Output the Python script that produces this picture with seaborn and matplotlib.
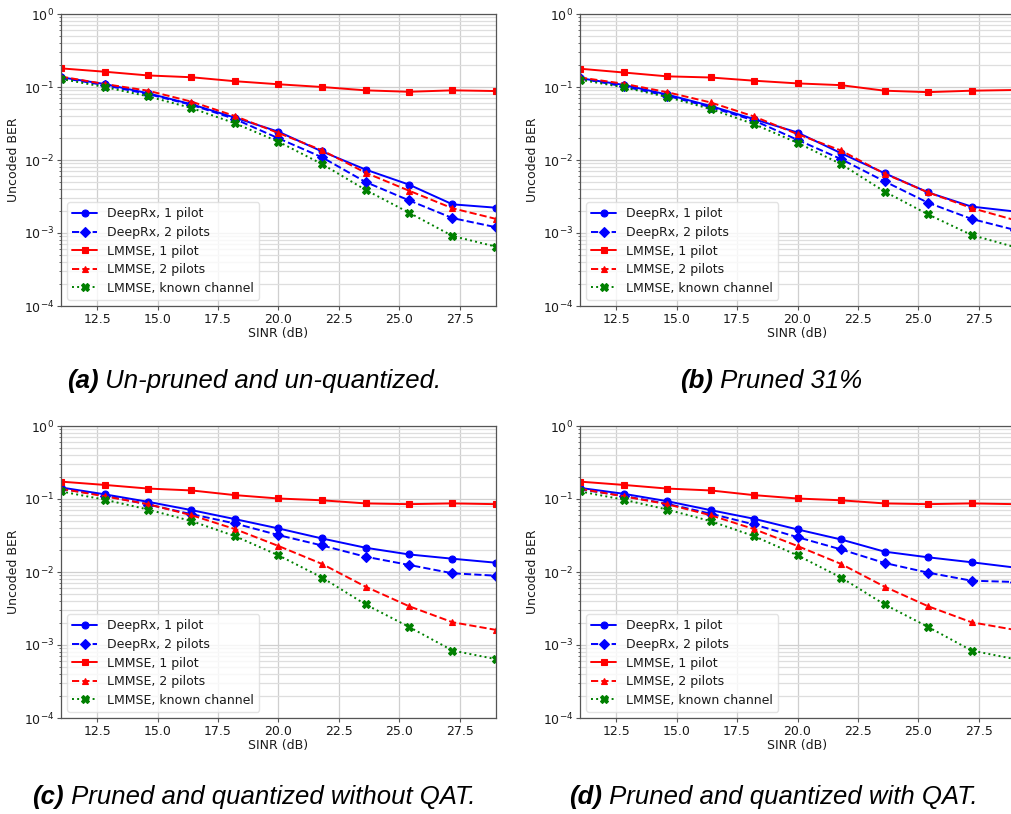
import numpy as np
import pandas as pd
import matplotlib
matplotlib.use("Agg")
import matplotlib.pyplot as plt
import seaborn as sns

sinr = [11.0, 12.8, 14.6, 16.4, 18.2, 20.0, 21.8, 23.6, 25.4, 27.2, 29.0]

series_labels = ["DeepRx, 1 pilot", "DeepRx, 2 pilots", "LMMSE, 1 pilot",
                 "LMMSE, 2 pilots", "LMMSE, known channel"]

# panel (a)
a_deeprx1 = [0.136, 0.110, 0.082, 0.058, 0.038, 0.0244, 0.0131, 0.0074, 0.0046, 0.00247, 0.00222]
a_deeprx2 = [0.134, 0.106, 0.080, 0.057, 0.0364, 0.0198, 0.0109, 0.0050, 0.0028, 0.0016, 0.0012]
a_lmmse1 = [0.180, 0.162, 0.144, 0.136, 0.120, 0.109, 0.100, 0.090, 0.086, 0.090, 0.088]
a_lmmse2 = [0.139, 0.110, 0.089, 0.063, 0.040, 0.0234, 0.0136, 0.0067, 0.0038, 0.00218, 0.00156]
a_known = [0.129, 0.100, 0.0745, 0.0515, 0.0318, 0.0178, 0.0088, 0.0039, 0.0019, 0.00091, 0.00065]

# panel (b)
b_deeprx1 = [0.132, 0.107, 0.079, 0.055, 0.0363, 0.0238, 0.0124, 0.0066, 0.0036, 0.0023, 0.00197]
b_deeprx2 = [0.131, 0.102, 0.076, 0.053, 0.0348, 0.0189, 0.0103, 0.0051, 0.0026, 0.00156, 0.0011]
b_lmmse1 = [0.178, 0.158, 0.140, 0.135, 0.122, 0.112, 0.106, 0.089, 0.085, 0.089, 0.091]
b_lmmse2 = [0.135, 0.111, 0.085, 0.0615, 0.0395, 0.0226, 0.0135, 0.0065, 0.0036, 0.0022, 0.0015]
b_known = [0.126, 0.099, 0.073, 0.050, 0.031, 0.0172, 0.0088, 0.0037, 0.0018, 0.00094, 0.00064]

# panel (c)
c_deeprx1 = [0.144, 0.116, 0.0915, 0.0704, 0.053, 0.0395, 0.0288, 0.0215, 0.0174, 0.0152, 0.0134]
c_deeprx2 = [0.138, 0.1116, 0.084, 0.062, 0.0462, 0.032, 0.0231, 0.0162, 0.0125, 0.0096, 0.0089]
c_lmmse1 = [0.173, 0.156, 0.139, 0.131, 0.113, 0.1016, 0.096, 0.087, 0.085, 0.087, 0.085]
c_lmmse2 = [0.138, 0.109, 0.085, 0.060, 0.0387, 0.0227, 0.0129, 0.0063, 0.0034, 0.00205, 0.00161]
c_known = [0.127, 0.098, 0.0718, 0.0498, 0.031, 0.0169, 0.0084, 0.0036, 0.00177, 0.00084, 0.00064]

# panel (d)
d_deeprx1 = [0.142, 0.118, 0.0934, 0.0704, 0.0536, 0.0383, 0.0279, 0.019, 0.0159, 0.0136, 0.0115]
d_deeprx2 = [0.136, 0.110, 0.086, 0.063, 0.0448, 0.030, 0.0204, 0.0133, 0.0098, 0.0076, 0.0073]
d_lmmse1 = [0.173, 0.156, 0.139, 0.131, 0.113, 0.1016, 0.096, 0.087, 0.085, 0.087, 0.085]
d_lmmse2 = [0.138, 0.109, 0.085, 0.060, 0.0387, 0.0227, 0.0129, 0.0063, 0.0034, 0.00205, 0.00161]
d_known = [0.127, 0.098, 0.0718, 0.0498, 0.031, 0.0169, 0.0084, 0.0036, 0.00177, 0.00084, 0.00064]

caption_tags = ["(a)", "(b)", "(c)", "(d)"]
caption_texts = ["Un-pruned and un-quantized.", "Pruned 31%",
                 "Pruned and quantized without QAT.", "Pruned and quantized with QAT."]

panels = [
    [a_deeprx1, a_deeprx2, a_lmmse1, a_lmmse2, a_known],
    [b_deeprx1, b_deeprx2, b_lmmse1, b_lmmse2, b_known],
    [c_deeprx1, c_deeprx2, c_lmmse1, c_lmmse2, c_known],
    [d_deeprx1, d_deeprx2, d_lmmse1, d_lmmse2, d_known],
]

styles = [
    dict(color="#0000ff", marker="o", linestyle="-", markersize=5.0),
    dict(color="#0000ff", marker="D", linestyle="--", markersize=5.0),
    dict(color="#ff0000", marker="s", linestyle="-", markersize=5.0),
    dict(color="#ff0000", marker="^", linestyle="--", markersize=5.0),
    dict(color="#008000", marker="X", linestyle=":", markersize=5.5),
]

sns.set_style("white")
plt.rcParams["font.family"] = ["DejaVu Sans"]
plt.rcParams["text.color"] = "#1a1a1a"
plt.rcParams["axes.labelcolor"] = "#1a1a1a"
plt.rcParams["xtick.color"] = "#1a1a1a"
plt.rcParams["ytick.color"] = "#1a1a1a"

W, H = 1012, 814
fig = plt.figure(figsize=(W / 100, H / 100), dpi=100)

ax_w, ax_h = 435, 292
boxes = [(61, 14), (580, 14), (61, 426), (580, 426)]

for i, (px, py) in enumerate(boxes):
    ax = fig.add_axes([px / W, 1 - (py + ax_h) / H, ax_w / W, ax_h / H])
    for lbl, vals, st in zip(series_labels, panels[i], styles):
        df = pd.DataFrame({"SINR": sinr, "BER": vals})
        sns.lineplot(data=df, x="SINR", y="BER", ax=ax, label=lbl,
                     color=st["color"], marker=st["marker"], linestyle=st["linestyle"],
                     markersize=st["markersize"], linewidth=1.4,
                     markeredgecolor=st["color"], markeredgewidth=0.8)
    ax.set_yscale("log")
    ax.set_ylim(1e-4, 1)
    ax.set_xlim(11, 29)
    ax.set_xticks([12.5, 15.0, 17.5, 20.0, 22.5, 25.0, 27.5])
    ax.set_xticklabels(["12.5", "15.0", "17.5", "20.0", "22.5", "25.0", "27.5"])
    ax.grid(True, which="major", color="#cfcfcf", linewidth=0.9)
    ax.grid(True, which="minor", axis="y", color="#dedede", linewidth=0.9)
    ax.set_axisbelow(True)
    ax.tick_params(axis="both", which="major", labelsize=9, length=3, color="#555555",
                   labelcolor="#1a1a1a", left=True, bottom=True, pad=2)
    ax.tick_params(axis="y", which="minor", length=1.5, left=True, color="#555555")
    for sp in ax.spines.values():
        sp.set_color("#555555")
        sp.set_linewidth(0.9)
    ax.set_xlabel("SINR (dB)", fontsize=9, labelpad=1)
    ax.set_ylabel("Uncoded BER", fontsize=9, labelpad=3)
    leg = ax.legend(loc="lower left", fontsize=9, frameon=True, framealpha=0.8,
                    edgecolor="#dddddd", borderaxespad=0.5, labelspacing=0.45)
    for t in leg.get_texts():
        t.set_color("#1a1a1a")

# captions
cap_centers = [(254, 381), (771, 381), (254, 797), (773, 797)]
fig.canvas.draw()
renderer = fig.canvas.get_renderer()
cap_font = ["Liberation Sans", "DejaVu Sans"]
for tag, txt, (cx, cy) in zip(caption_tags, caption_texts, cap_centers):
    t1 = fig.text(0, 1 - cy / H, tag, fontsize=18.5, fontstyle="italic", fontweight="bold",
                  family=cap_font, va="center", ha="left", color="black")
    t2 = fig.text(0, 1 - cy / H, " " + txt, fontsize=18.5, fontstyle="italic",
                  family=cap_font, va="center", ha="left", color="black")
    w1 = t1.get_window_extent(renderer).width
    w2 = t2.get_window_extent(renderer).width
    x0 = cx - (w1 + w2) / 2
    t1.set_x(x0 / W)
    t2.set_x((x0 + w1) / W)

fig.savefig("out.png", dpi=100)
